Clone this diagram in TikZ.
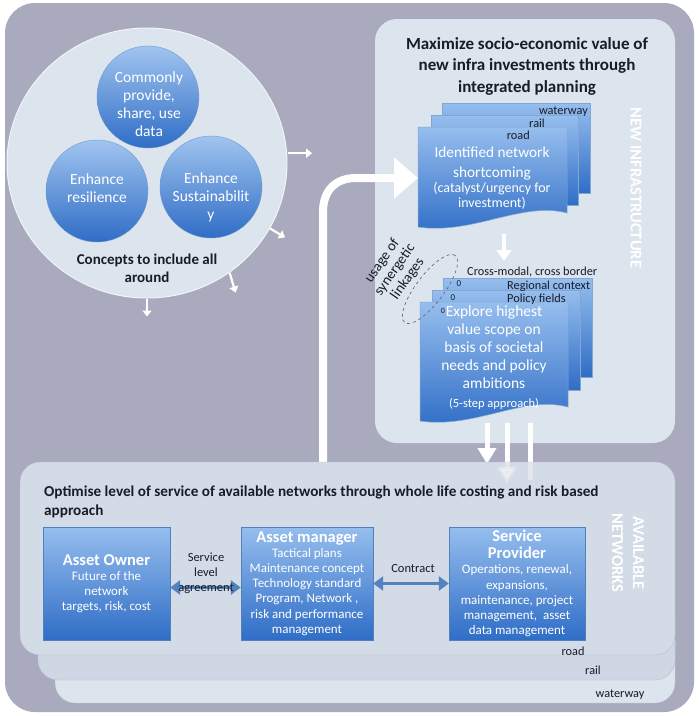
\documentclass[tikz,border=0pt]{standalone}
\usepackage{fontspec}
\setmainfont{Carlito}
\usetikzlibrary{positioning}
\usetikzlibrary{arrows.meta}
\usetikzlibrary{shapes.geometric}
\definecolor{backdrop}{RGB}{169,170,189}
\definecolor{panel}{RGB}{220,228,238}
\definecolor{panelfront}{RGB}{211,219,230}
\definecolor{panelmid}{RGB}{206,215,227}
\definecolor{panelback}{RGB}{220,228,238}
\definecolor{paneledge}{RGB}{184,192,206}
\definecolor{bluetop}{RGB}{150,190,238}
\definecolor{bluebot}{RGB}{47,109,198}
\definecolor{boxedge}{RGB}{79,129,189}
\definecolor{linkblue}{RGB}{84,130,190}
\definecolor{inktext}{RGB}{25,28,40}
\tikzset{bluebox/.style={rectangle,draw=boxedge,top color=bluetop,bottom color=bluebot,
text=white,align=center,inner sep=1pt,minimum height=113pt,font=\fontsize{13}{15.2}\selectfont}}
\tikzset{bluedisc/.style={circle,draw=boxedge!80,top color=bluetop!90,bottom color=bluebot,
inner sep=0pt,minimum size=102pt}}
\tikzset{disctext/.style={text=white,align=center,inner sep=0pt,font=\fontsize{15.5}{18}\selectfont}}
\tikzset{pagefill/.style={draw=boxedge!70,line width=0.5pt,top color=bluetop,bottom color=bluebot}}
\tikzset{pagelabel/.style={text=inktext,inner sep=0pt,font=\fontsize{12.3}{14}\selectfont}}
\tikzset{pagetext/.style={text=white,align=center,inner sep=0pt}}
\tikzset{sidetext/.style={text=white,align=center,inner sep=0pt,font=\fontsize{16.5}{21}\bfseries}}
\tikzset{headtext/.style={text=inktext,inner sep=0pt,font=\fontsize{17}{21.5}\bfseries}}
\tikzset{linktext/.style={text=inktext,align=center,inner sep=0pt,font=\fontsize{12.5}{15}\selectfont}}
\tikzset{whitearrow/.style={draw=white,line width=2.2pt,-{Triangle[length=6pt,width=9pt]}}}
\tikzset{linkarrow/.style={draw=linkblue,line width=3pt,
{Triangle[length=10pt,width=14pt]}-{Triangle[length=10pt,width=14pt]}}}
\newcommand{\flatpage}[4]{\path[pagefill] (#1,#2) rectangle (#3,#4);}
\newcommand{\wavypage}[4]{\path[pagefill] (#1,#2) -- (#3,#2) -- (#3,#4-14)
  .. controls (#3-45,#4-26) and (#1+55,#4+8) .. (#1,#4) -- cycle;}

\begin{document}
\begin{tikzpicture}[x=1pt,y=-1pt]
    \useasboundingbox (0,0) rectangle (700,716);
    \fill[backdrop,rounded corners=30pt] (5,3) rectangle (694,712);
    \fill[panel,rounded corners=22pt] (375,19) rectangle (675,443);

    \node[ellipse,fill=panel,draw=white!60!panel,line width=1pt,
        minimum width=280pt,minimum height=270pt] (concepts) at (147,163) {};
    \node[bluedisc] (datadisc) at (148,97) {};
    \node[bluedisc] (resildisc) at (97,191) {};
    \node[bluedisc] (sustdisc) at (211,187) {};
    \node[disctext] (datatext) at (149,104) {Commonly\\provide,\\share, use\\data};
    \node[disctext] (resiltext) at (97,188) {Enhance\\resilience};
    \node[disctext] (susttext) at (211,197) {Enhance\\Sustainabilit\\y};
    \node[text=inktext,align=center,inner sep=0pt,font=\fontsize{15}{18}\bfseries]
        (include) at (147,268) {Concepts to include all\\around};

    \draw[whitearrow] ([xshift=1pt]concepts.4) -- ++(24,0);
    \draw[whitearrow] (concepts.-28) -- ++(15,9);
    \draw[whitearrow] (concepts.-53) -- ++(6,20);
    \draw[whitearrow] (concepts.-90) -- ++(0,18);

    \node[headtext,align=center] (newtitle) at (527,66)
        {Maximize socio-economic value of\\new infra investments through\\integrated planning};
    \node[sidetext,rotate=-90] (newinfra) at (636,188) {NEW INFRASTRUCTURE};

    \flatpage{442}{103}{590}{193}
    \flatpage{431}{115}{578}{205}
    \wavypage{418}{127}{567}{227}
    \node[pagelabel,anchor=east] (waterwaytop) at (588,112) {waterway};
    \node[pagelabel,anchor=east] (railtop) at (545,123) {rail};
    \node[pagelabel,anchor=east] (roadtop) at (530,135) {road};
    \node[pagetext,font=\fontsize{15.3}{20}\selectfont] (shortfall) at (492,163)
        {Identified network\\shortcoming};
    \node[pagetext,font=\fontsize{14}{15}\selectfont] (catalyst) at (492,196)
        {(catalyst/urgency for\\investment)};
    \coordinate (roadpage) at (418,178);

    \draw[white,line width=4pt,-{Triangle[length=11pt,width=15pt]}] (504,234) -- (504,261);

    \flatpage{443}{278}{592}{377}
    \flatpage{432}{290}{580}{390}
    \wavypage{420}{302}{568}{421}
    \node[pagelabel,anchor=west] (crossmodal) at (467,272) {Cross-modal, cross border};
    \node[pagelabel,anchor=west] (regional) at (507,286) {Regional context};
    \node[pagelabel,anchor=west] (policy) at (507,299) {Policy fields};
    \node[text=inktext,inner sep=0pt,font=\fontsize{9}{10}\selectfont] (mark1) at (459,284) {0};
    \node[text=inktext,inner sep=0pt,font=\fontsize{9}{10}\selectfont] (mark2) at (453,298) {0};
    \node[text=inktext,inner sep=0pt,font=\fontsize{8}{10}\selectfont] (mark3) at (443,311) {0};
    \node[ellipse,draw=inktext!70,dashed,line width=0.6pt,minimum width=84pt,
        minimum height=28pt,rotate=53] (synergy) at (430,289) {};
    \node[linktext,font=\fontsize{14.5}{15.5}\selectfont,rotate=55] (usage) at (395,270)
        {usage of\\synergetic\\linkages};
    \node[pagetext,font=\fontsize{15.5}{18}\selectfont] (explore) at (494,347)
        {Explore highest\\value scope on\\basis of societal\\needs and policy\\ambitions};
    \node[pagetext,font=\fontsize{12.5}{14}\selectfont] (fivestep) at (494,404) {(5-step approach)};

    \coordinate (riseup) at (323,463);
    \draw[white,line width=8pt,-{Triangle[length=24pt,width=40pt]}] (riseup) -- (323,212)
        .. controls (323,190) and (336,178) .. (356,178) -- (roadpage);

    \coordinate (dropa) at (487,423);
    \coordinate (dropb) at (507,423);
    \coordinate (dropc) at (530,423);
    \draw[white,line width=5pt,-{Triangle[length=16pt,width=18pt]}] (dropa) -- (487,464);
    \draw[white,line width=5pt] (dropb) -- (507,463);
    \draw[white,line width=5pt] (dropc) -- (530,463);

    \fill[panelback,draw=paneledge,rounded corners=20pt] (55,620) rectangle (675,703);
    \fill[panelmid,draw=paneledge,rounded corners=20pt] (38,600) rectangle (675,680);
    \fill[panelfront,draw=paneledge,rounded corners=20pt] (20,462) rectangle (675,655);
    \draw[white,opacity=0.35,line width=5pt,-{Triangle[length=16pt,width=18pt]}] (507,462) -- (507,483);
    \draw[white,opacity=0.35,line width=5pt] (530,462) -- (530,480);
    \node[pagelabel] (roadlow) at (573,651) {road};
    \node[pagelabel] (raillow) at (593,670) {rail};
    \node[pagelabel] (waterlow) at (620,695) {waterway};
    \node[sidetext,rotate=-90] (available) at (628,553) {AVAILABLE\\NETWORKS};

    \node[text=inktext,anchor=west,align=left,inner sep=0pt,font=\fontsize{15.2}{19}\bfseries]
        (oldtitle) at (44,502) {Optimise level of service of available networks through whole life costing and risk based\\approach};

    \node[bluebox,minimum width=127pt] (owner) at (106.5,583.5)
        {{\fontsize{16.5}{19}\bfseries Asset Owner}\\Future of the\\network\\targets, risk, cost};
    \node[bluebox,minimum width=132pt] (manager) at (307,583.5)
        {{\fontsize{16.5}{19}\bfseries Asset manager}\\Tactical plans\\Maintenance concept\\Technology standard\\Program, Network ,\\risk and performance\\management};
    \node[bluebox,minimum width=136pt] (provider) at (517,583.5)
        {{\fontsize{16.5}{19}\bfseries Service}\\[2pt]{\fontsize{16.5}{19}\bfseries Provider}\\Operations, renewal,\\expansions,\\maintenance, project\\management,\ \ asset\\data management};

    \draw[linkarrow] ([yshift=-4pt]owner.east) -- ([yshift=-4pt]manager.west);
    \node[linktext] (sla) at (206,573) {Service\\level\\agreement};
    \draw[linkarrow] (manager.east) -- (provider.west);
    \node[linktext] (contract) at (413,568) {Contract};
\end{tikzpicture}
\end{document}
